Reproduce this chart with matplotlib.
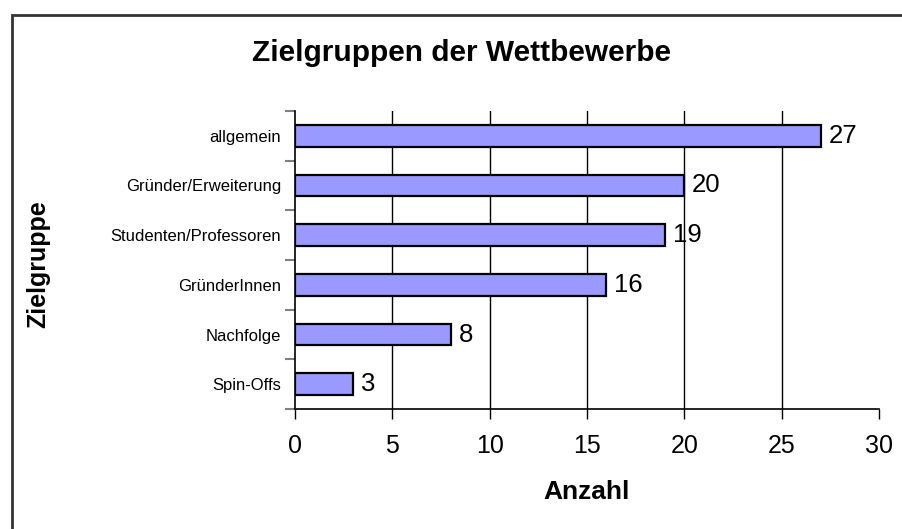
import matplotlib.pyplot as plt
from matplotlib.patches import Rectangle

plt.rcParams['font.family'] = ['Liberation Sans', 'DejaVu Sans']

# Data
categories = ['allgemein', 'Gründer/Erweiterung', 'Studenten/Professoren',
              'GründerInnen', 'Nachfolge', 'Spin-Offs']
counts = [27, 20, 19, 16, 8, 3]
x_ticks = [0, 5, 10, 15, 20, 25, 30]

fig = plt.figure(figsize=(9.03, 5.29), dpi=100)
ax = fig.add_axes([295 / 903, 1 - 409 / 529, 584 / 903, 298 / 529])

# outer chart frame (runs off the right and bottom edges)
fig.patches.append(Rectangle((12 / 903, -0.05), 1.2, 1 - 15 / 529 + 0.05,
                             transform=fig.transFigure, fill=False,
                             edgecolor='#333333', linewidth=2))

pos = list(range(len(categories)))[::-1]
ax.barh(pos, counts, height=0.44, color='#9999FF', edgecolor='black',
        linewidth=1.6, zorder=3)

for p, c in zip(pos, counts):
    ax.text(c + 0.4, p, str(c), va='center', ha='left', fontsize=18.5)

ax.set_xlim(0, 30)
ax.set_ylim(-0.5, len(categories) - 0.5)
ax.set_xticks(x_ticks)
ax.set_xticklabels([str(t) for t in x_ticks], fontsize=18)
ax.tick_params(axis='x', direction='out', length=7, width=1, pad=11)

ax.set_yticks(pos)
ax.set_yticklabels(categories, fontsize=12)
ax.set_yticks([i - 0.5 for i in range(len(categories) + 1)], minor=True)
ax.tick_params(axis='y', which='major', length=0, pad=10)
ax.tick_params(axis='y', which='minor', length=7, color='#808080', width=1.5)

for t in x_ticks[1:-1]:
    ax.axvline(t, color='black', linewidth=1, zorder=1)

for s in ['top', 'right']:
    ax.spines[s].set_visible(False)
ax.spines['left'].set_linewidth(1.2)
ax.spines['bottom'].set_linewidth(1.2)

fig.text(587 / 903, 1 - 492 / 529, 'Anzahl', ha='center', va='center',
         fontsize=19, fontweight='bold')
fig.text(38 / 903, 1 - 264 / 529, 'Zielgruppe', ha='center', va='center',
         rotation=90, fontsize=18, fontweight='bold')
fig.text(462 / 903, 1 - 53 / 529, 'Zielgruppen der Wettbewerbe', ha='center',
         va='center', fontsize=21.5, fontweight='bold')

fig.savefig('out.png', dpi=100)
